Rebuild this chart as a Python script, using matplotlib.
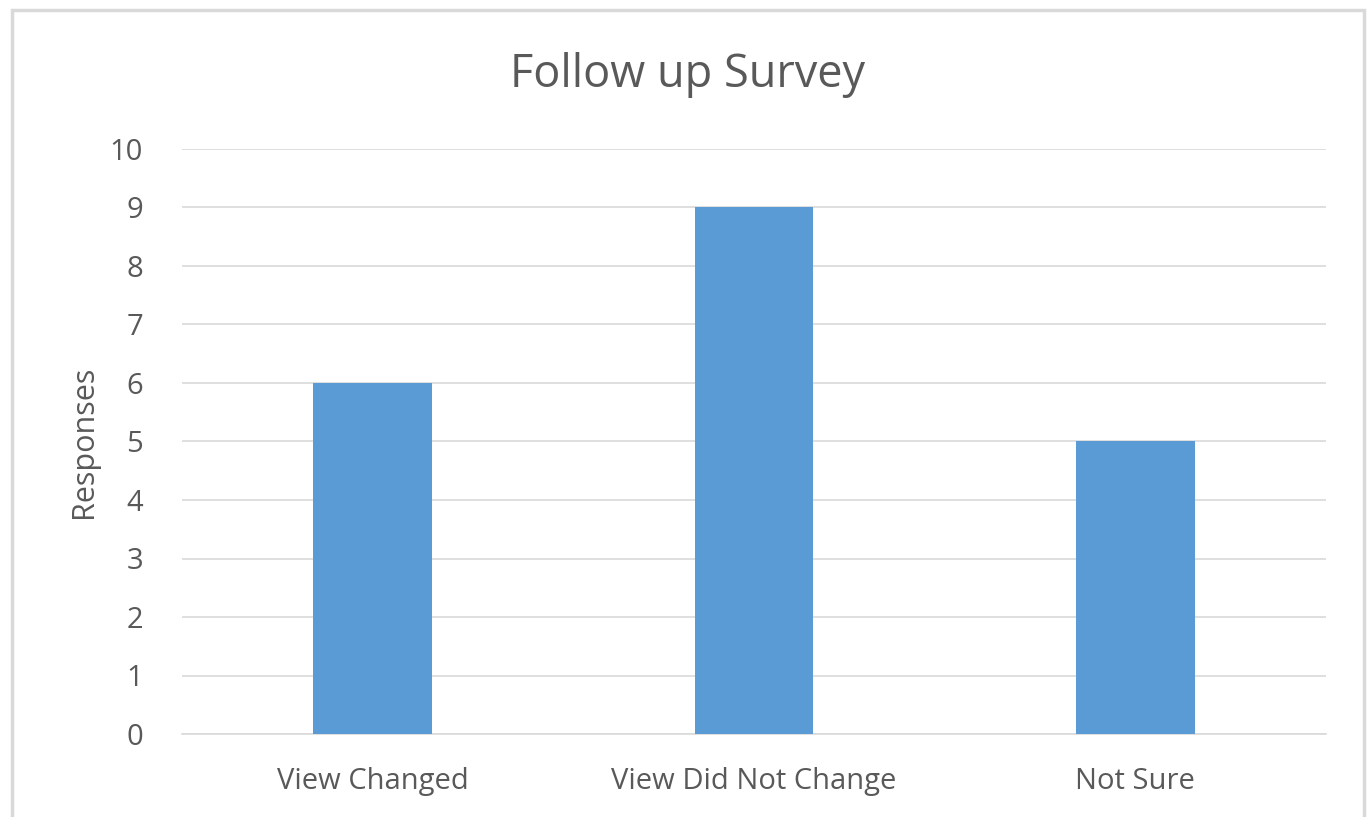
import matplotlib
matplotlib.use('Agg')
import matplotlib.pyplot as plt
from matplotlib.patches import Rectangle

# Chart data
categories = ['View Changed', 'View Did Not Change', 'Not Sure']
responses = [6, 9, 5]
y_ticks = [0, 1, 2, 3, 4, 5, 6, 7, 8, 9, 10]

plt.rcParams['font.family'] = ['Open Sans', 'DejaVu Sans']
text_color = '#595959'

fig = plt.figure(figsize=(13.69, 8.17), dpi=100)
ax = fig.add_axes([182/1369, 1 - 734/817, (1326 - 182)/1369, (734 - 149)/817])

x = list(range(len(categories)))
ax.bar(x, responses, width=0.312, color='#5B9BD5', zorder=3)

ax.set_xlim(-0.5, len(categories) - 0.5)
ax.set_ylim(0, 10)
ax.set_yticks(y_ticks)
ax.set_xticks(x)
ax.set_xticklabels(categories)
ax.grid(axis='y', color='#D9D9D9', linewidth=1.2, zorder=0)
ax.tick_params(axis='both', length=0, labelsize=21, labelcolor=text_color)
ax.tick_params(axis='x', pad=24)
ax.tick_params(axis='y', pad=28)
for side in ['top', 'right', 'left']:
    ax.spines[side].set_visible(False)
ax.spines['bottom'].set_color('#D9D9D9')
ax.spines['bottom'].set_linewidth(1.2)

ax.set_ylabel('Responses', fontsize=22, color=text_color, labelpad=8)
fig.text(688/1369, 1 - 75/817, 'Follow up Survey', fontsize=32.5, color=text_color,
         ha='center', va='center')

# outer chart border
fig.patches.append(Rectangle((12/1369, -0.05), (1364 - 12)/1369, 1.05 - 10/817,
                             transform=fig.transFigure, fill=False,
                             edgecolor='#D9D9D9', linewidth=2.5))

fig.savefig('out.png', dpi=100)
